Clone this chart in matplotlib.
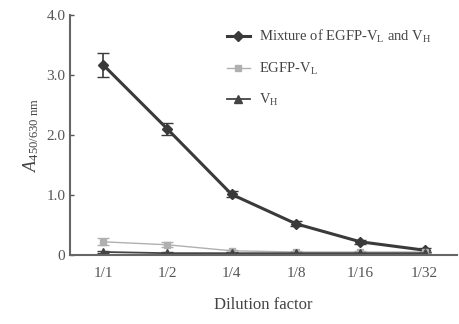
import numpy as np
import matplotlib.pyplot as plt

plt.rcParams['font.family'] = ['Liberation Serif', 'DejaVu Serif']
plt.rcParams['mathtext.fontset'] = 'custom'
plt.rcParams['mathtext.rm'] = 'Liberation Serif'
plt.rcParams['mathtext.it'] = 'Liberation Serif:italic'

dilutions = ['1/1', '1/2', '1/4', '1/8', '1/16', '1/32']
mixture = [3.17, 2.10, 1.01, 0.52, 0.22, 0.08]
mixture_err = [0.20, 0.10, 0.05, 0.04, 0.03, 0.03]
egfp_vl = [0.22, 0.17, 0.07, 0.05, 0.05, 0.05]
egfp_err = [0.06, 0.04, 0.02, 0.02, 0.02, 0.02]
vh = [0.05, 0.03, 0.03, 0.03, 0.03, 0.03]
vh_err = [0.02, 0.02, 0.02, 0.02, 0.02, 0.02]

x = np.arange(len(dilutions))

fig = plt.figure(figsize=(4.59, 3.24), dpi=100)
ax = fig.add_axes([0.153, 0.213, 0.842, 0.741])

ax.errorbar(x, mixture, yerr=mixture_err, color='#3a3a3a', lw=2.2, marker='D',
            ms=5, capsize=4, elinewidth=1.2, label=r'Mixture of EGFP-V$_{\rm L}$ and V$_{\rm H}$')
ax.errorbar(x, egfp_vl, yerr=egfp_err, color='#b0b0b0', lw=1.0, marker='s',
            ms=5, capsize=4, elinewidth=1.0, label=r'EGFP-V$_{\rm L}$')
ax.errorbar(x, vh, yerr=vh_err, color='#444444', lw=1.3, marker='^',
            ms=6, capsize=4, elinewidth=1.0, label=r'V$_{\rm H}$')

ax.set_xlim(-0.51, 5.5)
ax.set_ylim(0, 4.0)
ax.set_xticks(x)
ax.set_xticklabels(dilutions)
ax.set_yticks([0, 1, 2, 3, 4])
ax.set_yticklabels(['0', '1.0', '2.0', '3.0', '4.0'])
ax.tick_params(direction='in', length=3, labelsize=11, colors='#555555', width=1)
ax.tick_params(axis='x', length=0, pad=9)
for s in ['top', 'right']:
    ax.spines[s].set_visible(False)
for s in ['left', 'bottom']:
    ax.spines[s].set_color('#666666')
    ax.spines[s].set_linewidth(1.5)

ax.set_xlabel('Dilution factor', fontsize=12, color='#444444', labelpad=12)
ax.set_ylabel(r'$A_{450/630\ \rm nm}$', fontsize=13, color='#444444', labelpad=4)

handles, labels = ax.get_legend_handles_labels()
handles = [h[0] for h in handles]
ax.legend(handles, labels, loc='upper left', bbox_to_anchor=(0.465, 0.953),
          bbox_transform=fig.transFigure, frameon=False, fontsize=10.5,
          labelspacing=1.05, handlelength=1.6, handletextpad=0.6,
          labelcolor='#444444')

fig.savefig('out.png', dpi=100)
